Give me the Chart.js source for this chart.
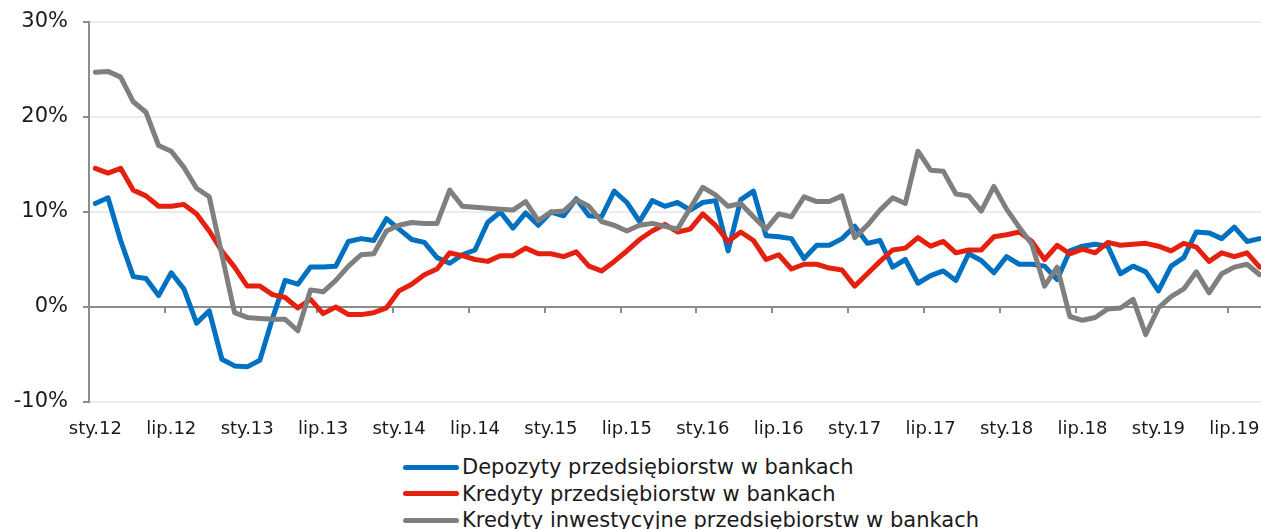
<!DOCTYPE html>
<html>
<head>
<meta charset="utf-8">
<script src="https://cdn.jsdelivr.net/npm/chart.js@4.4.1/dist/chart.umd.min.js"></script>
<style>
    body { margin: 0; background: #fff; overflow: hidden; width: 1261px; height: 529px; position: relative; }
    #box { position: absolute; left: 0; top: 0; width: 1270px; height: 446px; }
    #legenda { position: absolute; left: 403px; top: 454px; font-family: "DejaVu Sans", Verdana, sans-serif; font-size: 21px; color: #1a1a1a; }
    .item { display: flex; align-items: center; height: 26.5px; white-space: nowrap; }
    .linia { width: 56px; height: 5px; border-radius: 3px; margin-right: 3px; }
</style>
</head>
<body>
<div id="box"><canvas id="grafico"></canvas></div>
<div id="legenda"></div>
<script>
const meses = ["sty", "lut", "mar", "kwi", "maj", "cze", "lip", "sie", "wrz", "paź", "lis", "gru"];
const anos = ["12", "13", "14", "15", "16", "17", "18", "19"];
const totalMeses = 93; // sty.12 - wrz.19

const depozyty = [
    10.9, 11.5, 7.0, 3.2, 3.0, 1.2, 3.6, 1.9, -1.7, -0.4, -5.5, -6.2,
    -6.3, -5.6, -1.2, 2.8, 2.4, 4.2, 4.2, 4.3, 6.9, 7.2, 7.0, 9.3,
    8.2, 7.1, 6.8, 5.2, 4.6, 5.5, 6.0, 8.9, 10.0, 8.3, 9.9, 8.6,
    10.0, 9.6, 11.4, 9.6, 9.5, 12.2, 11.0, 9.0, 11.2, 10.6, 11.0, 10.2,
    11.0, 11.2, 5.9, 11.3, 12.2, 7.5, 7.4, 7.2, 5.1, 6.5, 6.5, 7.2,
    8.5, 6.7, 7.0, 4.2, 5.0, 2.5, 3.3, 3.8, 2.8, 5.6, 4.9, 3.6,
    5.3, 4.5, 4.5, 4.3, 2.9, 5.9, 6.4, 6.6, 6.4, 3.5, 4.3, 3.7,
    1.7, 4.3, 5.2, 7.9, 7.8, 7.2, 8.4, 6.9, 7.2
];
const kredyty = [
    14.6, 14.1, 14.6, 12.3, 11.7, 10.6, 10.6, 10.8, 9.8, 8.0, 5.9, 4.2,
    2.2, 2.2, 1.3, 1.0, -0.1, 0.8, -0.7, 0.0, -0.8, -0.8, -0.6, -0.1,
    1.7, 2.4, 3.4, 4.0, 5.7, 5.4, 5.0, 4.8, 5.4, 5.4, 6.2, 5.6,
    5.6, 5.3, 5.8, 4.3, 3.8, 4.8, 5.9, 7.1, 8.0, 8.7, 7.9, 8.2,
    9.8, 8.6, 6.9, 7.9, 7.0, 5.0, 5.5, 4.0, 4.5, 4.5, 4.1, 3.9,
    2.2, 3.5, 4.8, 6.0, 6.2, 7.3, 6.4, 6.9, 5.7, 6.0, 6.0, 7.4,
    7.6, 7.9, 6.9, 5.0, 6.5, 5.6, 6.1, 5.7, 6.8, 6.5, 6.6, 6.7,
    6.4, 5.9, 6.7, 6.3, 4.8, 5.7, 5.3, 5.7, 4.2
];
const inwestycyjne = [
    24.7, 24.8, 24.2, 21.6, 20.5, 17.0, 16.4, 14.7, 12.5, 11.6, 5.5, -0.6,
    -1.1, -1.2, -1.3, -1.3, -2.5, 1.8, 1.6, 2.8, 4.3, 5.5, 5.6, 8.0,
    8.6, 8.9, 8.8, 8.8, 12.3, 10.6, 10.5, 10.4, 10.3, 10.2, 11.1, 9.1,
    10.0, 10.1, 11.3, 10.6, 9.0, 8.6, 8.0, 8.6, 8.8, 8.5, 8.2, 10.4,
    12.6, 11.8, 10.6, 10.9, 9.5, 8.2, 9.8, 9.5, 11.6, 11.1, 11.1, 11.7,
    7.3, 8.6, 10.2, 11.5, 10.9, 16.4, 14.4, 14.3, 11.9, 11.7, 10.1, 12.7,
    10.3, 8.4, 6.6, 2.2, 4.2, -1.0, -1.4, -1.1, -0.2, -0.1, 0.8, -2.9,
    -0.1, 1.1, 1.9, 3.7, 1.5, 3.5, 4.2, 4.5, 3.4
];

const nomesSeries = [
    "Depozyty przedsiębiorstw w bankach",
    "Kredyty przedsiębiorstw w bankach",
    "Kredyty inwestycyjne przedsiębiorstw w bankach"
];
const coresSeries = ["#0070c0", "#e6200f", "#7f7f7f"];

const corEixo = "#8c8c8c";
const corGrade = "#ececec";
const fonte = "'DejaVu Sans', Verdana, sans-serif";

const categorias = [];
for (let i = 0; i < totalMeses; i++) {
    categorias.push(meses[i % 12] + "." + anos[Math.floor(i / 12)]);
}

// pequenos traços no eixo do zero, a cada 6 meses
const marcasNoZero = {
    id: "marcasNoZero",
    beforeDatasetsDraw(chart) {
        const x = chart.scales.x;
        const y = chart.scales.y;
        const ctx = chart.ctx;
        const meio = (x.getPixelForValue(1) - x.getPixelForValue(0)) / 2;
        const y0 = y.getPixelForValue(0);
        ctx.save();
        ctx.strokeStyle = corEixo;
        ctx.lineWidth = 2;
        for (let k = 6; k < totalMeses; k += 6) {
            const px = Math.round(x.getPixelForValue(k) - meio);
            ctx.beginPath();
            ctx.moveTo(px, y0);
            ctx.lineTo(px, y0 + 6);
            ctx.stroke();
        }
        ctx.restore();
    }
};

const dados = [depozyty, kredyty, inwestycyjne];
const ordem = [2, 1, 0];

const chart = new Chart(document.querySelector("#grafico"), {
    type: "line",
    data: {
        labels: categorias,
        datasets: dados.map((serie, i) => ({
            label: nomesSeries[i],
            data: serie,
            borderColor: coresSeries[i],
            backgroundColor: coresSeries[i],
            borderWidth: 5,
            borderJoinStyle: "round",
            borderCapStyle: "round",
            pointRadius: 0,
            tension: 0,
            order: ordem[i]
        }))
    },
    options: {
        responsive: true,
        maintainAspectRatio: false,
        animation: false,
        layout: { padding: { top: 22, right: 4, left: 0, bottom: 0 } },
        plugins: {
            legend: { display: false },
            tooltip: { enabled: false }
        },
        scales: {
            x: {
                offset: true,
                grid: { display: false },
                border: { display: false },
                ticks: {
                    autoSkip: false,
                    maxRotation: 0,
                    padding: 9,
                    color: "#1a1a1a",
                    font: { family: fonte, size: 18 },
                    callback: (v, i) => (i % 6 === 0 ? categorias[i] : "")
                },
                afterFit: (scale) => { scale.height = 44; }
            },
            y: {
                min: -10,
                max: 30,
                ticks: {
                    stepSize: 10,
                    padding: 15,
                    color: "#1a1a1a",
                    font: { family: fonte, size: 21 },
                    callback: (v) => v + "%"
                },
                grid: {
                    color: (c) => (c.tick && c.tick.value === 0 ? corEixo : corGrade),
                    lineWidth: 2,
                    tickColor: corEixo,
                    tickLength: 6,
                    tickWidth: 2
                },
                border: { display: true, color: corEixo, width: 2 },
                afterFit: (scale) => {
                    scale.width = 89;
                    scale.paddingTop = 0;
                    scale.paddingBottom = 0;
                }
            }
        }
    },
    plugins: [marcasNoZero]
});

const legenda = document.querySelector("#legenda");
chart.data.datasets.forEach((ds) => {
    const item = document.createElement("div");
    item.className = "item";
    item.innerHTML = `<span class="linia" style="background:${ds.borderColor}"></span><span>${ds.label}</span>`;
    legenda.appendChild(item);
});
</script>
</body>
</html>
